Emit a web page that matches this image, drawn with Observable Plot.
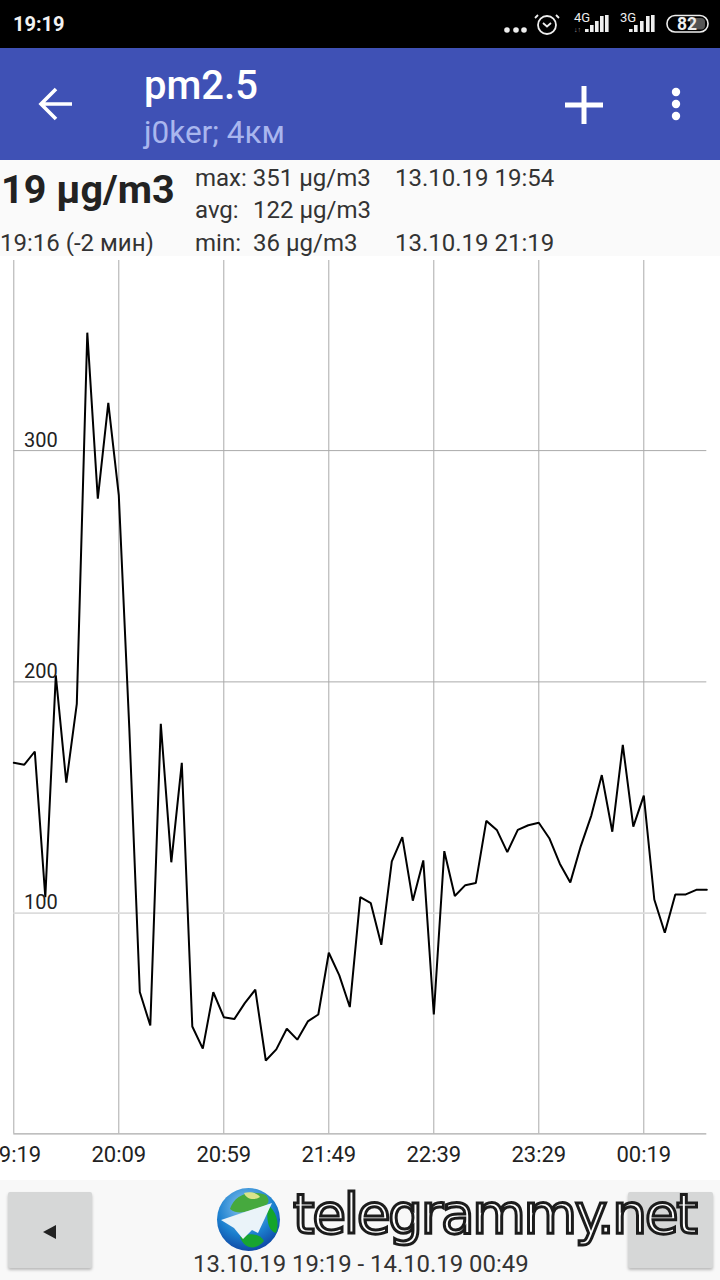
<!DOCTYPE html>
<html>
<head>
<meta charset="utf-8">
<script src="https://cdn.jsdelivr.net/npm/d3@7"></script>
<script src="https://cdn.jsdelivr.net/npm/@observablehq/plot@0.6"></script>
<style>
html,body{margin:0;padding:0;background:#fff;}
#page{position:relative;width:720px;height:1280px;overflow:hidden;font-family:Roboto,sans-serif;color:#222;}
.a{position:absolute;white-space:nowrap;line-height:1;}
#chart{position:absolute;left:0;top:256px;}
</style>
</head>
<body>
<div id="page">
  <div class="a" style="left:0;top:0;width:720px;height:48px;background:#000"></div>
  <div class="a" style="left:13px;top:14px;font-size:20px;font-weight:700;color:#f2f2f2">19:19</div>
  <svg class="a" style="left:500px;top:8px" width="220" height="34" viewBox="0 0 220 34">
    <g fill="#eee"><circle cx="7" cy="22" r="2.8"/><circle cx="16" cy="22" r="2.8"/><circle cx="24" cy="22" r="2.8"/></g>
    <g fill="none" stroke="#eee" stroke-width="1.8"><circle cx="47" cy="17" r="9"/><path d="M43 15l4 3.5l4-3.5M38 7l-3 3M56 7l3 3"/></g>
    <text x="74" y="14" font-size="13" fill="#eee" font-family="Roboto">4G</text>
    <text x="74" y="24" font-size="7" fill="#999" font-family="Roboto">↓↑</text>
    <g fill="#eee"><rect x="85" y="21" width="3.6" height="3"/><rect x="90" y="17" width="3.6" height="7"/><rect x="95" y="13" width="3.6" height="11"/><rect x="100" y="8" width="3.6" height="16"/><rect x="105" y="7" width="3.6" height="17"/></g>
    <text x="120" y="14" font-size="13" fill="#eee" font-family="Roboto">3G</text>
    <g fill="#eee"><rect x="129" y="21" width="3.6" height="3"/><rect x="134" y="17" width="3.6" height="7"/><rect x="140" y="13" width="3.6" height="11"/><rect x="146" y="8" width="3.6" height="16"/><rect x="151" y="7" width="3.6" height="17"/></g>
    <rect x="167" y="7.5" width="41" height="16.5" rx="8" fill="none" stroke="#eee" stroke-width="1.6"/>
    <rect x="190" y="10" width="15" height="11.5" rx="4" fill="#555"/>
    <text x="187" y="22" font-size="17.5" font-weight="700" text-anchor="middle" fill="#eee" font-family="Roboto">82</text>
  </svg>

  <div class="a" style="left:0;top:48px;width:720px;height:112px;background:#3f51b5"></div>
  <svg class="a" style="left:30px;top:79px" width="50" height="50" viewBox="0 0 50 50">
    <path d="M42 25H13M26 10L11 25L26 40" fill="none" stroke="#fff" stroke-width="3.6"/>
  </svg>
  <div class="a" style="left:144px;top:66px;font-size:40px;font-weight:500;color:#fff">pm2.5</div>
  <div class="a" style="left:144px;top:117px;font-size:31.5px;color:#a9b6ee">j0ker; 4км</div>
  <svg class="a" style="left:560px;top:80px" width="50" height="50" viewBox="0 0 50 50">
    <path d="M5 25H43M24 6V44" fill="none" stroke="#fff" stroke-width="5"/>
  </svg>
  <svg class="a" style="left:660px;top:80px" width="30" height="50" viewBox="0 0 30 50">
    <g fill="#fff"><circle cx="16" cy="12" r="4.2"/><circle cx="16" cy="24" r="4.2"/><circle cx="16" cy="36" r="4.2"/></g>
  </svg>

  <div class="a" style="left:0;top:160px;width:720px;height:96px;background:#fafafa;"></div>
  <div class="a" style="left:1px;top:170px;font-size:39.5px;font-weight:700;color:#222">19 µg/m3</div>
  <div class="a" style="left:195px;top:166px;font-size:24px;color:#333">max: 351 µg/m3</div>
  <div class="a" style="left:395px;top:166px;font-size:24px;color:#333">13.10.19 19:54</div>
  <div class="a" style="left:195px;top:198px;font-size:24px;color:#333">avg:</div>
  <div class="a" style="left:253px;top:198px;font-size:24px;color:#333">122 µg/m3</div>
  <div class="a" style="left:195px;top:231px;font-size:24px;color:#333">min:</div>
  <div class="a" style="left:253px;top:231px;font-size:24px;color:#333">36 µg/m3</div>
  <div class="a" style="left:395px;top:231px;font-size:24px;color:#333">13.10.19 21:19</div>
  <div class="a" style="left:0;top:231px;font-size:24px;color:#333">19:16 (-2 мин)</div>

  <div id="chart"></div>

  <div class="a" style="left:0;top:1180px;width:720px;height:100px;background:#f8f8f8"></div>
  <div class="a" style="left:8px;top:1192px;width:84px;height:76px;background:#d6d7d7;border-radius:2px;box-shadow:0 2px 3px rgba(0,0,0,.25)"></div>
  <svg class="a" style="left:40px;top:1222px" width="20" height="20" viewBox="0 0 20 20"><path d="M3 10L16 3V17Z" fill="#222"/></svg>
  <div class="a" style="left:628px;top:1192px;width:85px;height:76px;background:#d6d7d7;border-radius:2px;box-shadow:0 2px 3px rgba(0,0,0,.25)"></div>
  <svg class="a" style="left:216px;top:1187px" width="66" height="66" viewBox="0 0 66 66">
    <defs><radialGradient id="gl" cx="45%" cy="30%" r="75%"><stop offset="0" stop-color="#8ec8f0"/><stop offset=".6" stop-color="#1c80cf"/><stop offset="1" stop-color="#0d3f9e"/></radialGradient></defs>
    <circle cx="32.5" cy="32.5" r="31.5" fill="url(#gl)"/>
    <path d="M14 22C18 8 34 2 50 8C56 16 50 18 44 22C34 22 24 30 14 22Z" fill="#46a93e"/>
    <path d="M52 18C60 24 64 36 60 46C52 44 50 32 52 18Z" fill="#14a52a"/>
    <path d="M24 50C32 46 44 46 48 54C40 64 28 62 24 50Z" fill="#18a530"/>
    <path d="M28 6C34 4 42 6 44 10C38 14 30 12 28 6Z" fill="#d9e48a"/>
    <path d="M56 16L5 33L18 41L27 52L36 43L42 46Z" fill="#eaf3f9"/>
  </svg>
  <div class="a" style="left:293px;top:1187px;font-size:55px;font-family:'DejaVu Sans',sans-serif;color:#fff;-webkit-text-stroke:3px #1c1c1c;letter-spacing:-2.35px">telegrammy.net</div>
  <div class="a" style="left:193px;top:1253px;font-size:23.9px;color:#333">13.10.19 19:19 - 14.10.19 00:49</div>
</div>
<script>
const times = ["19:19","19:24","19:29","19:34","19:39","19:44","19:49","19:54","19:59","20:04","20:09","20:14","20:19","20:24","20:29","20:34","20:39","20:44","20:49","20:54","20:59","21:04","21:09","21:14","21:19","21:24","21:29","21:34","21:39","21:44","21:49","21:54","21:59","22:04","22:09","22:14","22:19","22:24","22:29","22:34","22:39","22:44","22:49","22:54","22:59","23:04","23:09","23:14","23:19","23:24","23:29","23:34","23:39","23:44","23:49","23:54","23:59","00:04","00:09","00:14","00:19","00:24","00:29","00:34","00:39","00:44","00:49"];
const values = [165,164.2,169.9,106.9,202.8,156.4,190.5,351,279.2,320.6,280.6,180,65.9,51.4,181.9,122,165,51,41.4,65.8,55,54.2,61.1,66.9,36.3,41.1,50,45.3,53.2,56.2,82.9,73.1,59.4,106.9,104.3,86.3,122.4,132.9,105.4,122.8,56.2,126.8,107.4,112.1,113,139.9,136,126.4,136,138,139.1,132.4,121.4,113.3,129,142.2,159.7,135.2,172.8,137.4,150.8,105.9,91.5,108.1,108.1,110.1,110.1];
const xTicks = ["19:19","20:09","20:59","21:49","22:39","23:29","00:19"];
const yTicks = [100,200,300];
const yStrong = [200,300];
const yFaint = [100];
const yFloor = 4.6;
const yCeil = 382.2;

const chart = Plot.plot({
  width: 720,
  height: 924,
  marginLeft: 13.3,
  marginRight: 13.7,
  marginTop: 4,
  marginBottom: 46.7,
  style: {background: "#fff", fontFamily: "Roboto, sans-serif", overflow: "hidden"},
  x: {type: "point", domain: times, padding: 0, round: false, axis: null},
  y: {domain: [yFloor, yCeil], axis: null},
  marks: [
    Plot.ruleX(xTicks, {x: d => d, stroke: "#aaa", strokeWidth: 1}),
    Plot.ruleY(yStrong, {y: d => d, stroke: "#aaa", strokeWidth: 1}),
    Plot.ruleY(yFaint, {y: d => d, stroke: "#dcdcdc", strokeWidth: 1.6}),
    Plot.ruleY([yFloor], {y: d => d, stroke: "#aaa", strokeWidth: 1.2}),
    Plot.line(values, {x: (d, i) => times[i], y: d => d, stroke: "#000", strokeWidth: 2, strokeLinejoin: "bevel"}),
    Plot.axisX({ticks: xTicks, anchor: "bottom", tickSize: 0, tickPadding: 13, fontSize: 22, fill: "#222", label: null}),
    Plot.axisY({ticks: yTicks, anchor: "left", tickSize: 0, tickPadding: 0, dx: 44, dy: -10.5, fontSize: 20, fill: "#222", textAnchor: "end", label: null})
  ]
});
document.getElementById("chart").appendChild(chart);
</script>
</body>
</html>
